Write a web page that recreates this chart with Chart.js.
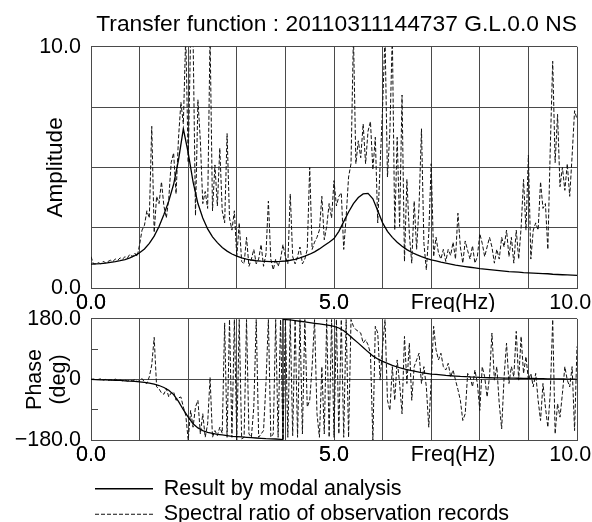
<!DOCTYPE html>
<html>
<head>
<meta charset="utf-8">
<script src="https://cdn.jsdelivr.net/npm/chart.js@4.4.1/dist/chart.umd.min.js"></script>
<style>
  html, body { margin: 0; padding: 0; background: #fff; overflow: hidden; }
  body { width: 592px; height: 522px; position: relative; }
  #ampBox { position: absolute; left: 0; top: 0; }
  #phaseBox { position: absolute; left: 0; top: 289px; }
</style>
</head>
<body>
<div id="ampBox"><canvas id="graficoAmp" width="592" height="312"></canvas></div>
<div id="phaseBox"><canvas id="graficoPhase" width="592" height="246"></canvas></div>
<script>
// dados
const tituloTexto = 'Transfer function : 20110311144737 G.L.0.0 NS';
const nomeModal = 'Result by modal analysis';
const nomeObs = 'Spectral ratio of observation records';

// frequencias (Hz) das curvas
const freqObs = [
  0, 0.05, 0.1, 0.15, 0.2, 0.25, 0.3, 0.35, 0.4, 0.45,
  0.5, 0.55, 0.6, 0.65, 0.7, 0.75, 0.8, 0.85, 0.9, 0.95,
  1, 1.05, 1.1, 1.15, 1.2, 1.25, 1.3, 1.35, 1.4, 1.45,
  1.5, 1.55, 1.6, 1.65, 1.7, 1.75, 1.8, 1.85, 1.9, 1.95,
  2, 2.05, 2.1, 2.15, 2.2, 2.25, 2.3, 2.35, 2.4, 2.45,
  2.5, 2.55, 2.6, 2.65, 2.7, 2.75, 2.8, 2.85, 2.9, 2.95,
  3, 3.05, 3.1, 3.15, 3.2, 3.25, 3.3, 3.35, 3.4, 3.45,
  3.5, 3.55, 3.6, 3.65, 3.7, 3.75, 3.8, 3.85, 3.9, 3.95,
  4, 4.05, 4.1, 4.15, 4.2, 4.25, 4.3, 4.35, 4.4, 4.45,
  4.5, 4.55, 4.6, 4.65, 4.7, 4.75, 4.8, 4.85, 4.9, 4.95,
  5, 5.05, 5.1, 5.15, 5.2, 5.25, 5.3, 5.35, 5.4, 5.45,
  5.5, 5.55, 5.6, 5.65, 5.7, 5.75, 5.8, 5.85, 5.9, 5.95,
  6, 6.05, 6.1, 6.15, 6.2, 6.25, 6.3, 6.35, 6.4, 6.45,
  6.5, 6.55, 6.6, 6.65, 6.7, 6.75, 6.8, 6.85, 6.9, 6.95,
  7, 7.05, 7.1, 7.15, 7.2, 7.25, 7.3, 7.35, 7.4, 7.45,
  7.5, 7.55, 7.6, 7.65, 7.7, 7.75, 7.8, 7.85, 7.9, 7.95,
  8, 8.05, 8.1, 8.15, 8.2, 8.25, 8.3, 8.35, 8.4, 8.45,
  8.5, 8.55, 8.6, 8.65, 8.7, 8.75, 8.8, 8.85, 8.9, 8.95,
  9, 9.05, 9.1, 9.15, 9.2, 9.25, 9.3, 9.35, 9.4, 9.45,
  9.5, 9.55, 9.6, 9.65, 9.7, 9.75, 9.8, 9.85, 9.9, 9.95,
  10
];

const ampObs = [
  1.3, 1.0, 1.0, 1.05, 1.0, 1.1, 1.05, 1.1, 1.15, 1.1,
  1.2, 1.15, 1.25, 1.2, 1.3, 1.25, 1.4, 1.3, 1.45, 1.3,
  1.8, 2.4, 2.6, 3.2, 2.9, 6.7, 2.3, 3.8, 3.5, 4.4,
  3.4, 2.9, 3.7, 5.2, 5.6, 3.9, 6.2, 7.7, 6.8, 10.5,
  5.2, 10.5, 10.5, 3.0, 7.8, 6.1, 3.5, 4.0, 3.3, 10.5,
  3.2, 5.1, 3.4, 5.8, 3.2, 2.7, 6.4, 2.9, 2.4, 3.2,
  1.3, 2.7, 1.1, 1.0, 2.1, 0.9, 1.2, 1.6, 1.0, 1.2,
  1.8, 0.9, 1.4, 3.6, 1.2, 0.75, 1.2, 0.9, 1.2, 1.8,
  1.3, 1.0, 3.9, 1.3, 1.0, 1.3, 1.7, 1.0, 1.2, 1.6,
  5.0, 1.6, 1.9, 2.1, 2.4, 3.8, 2.0, 2.55, 3.5, 2.9,
  4.45, 3.4, 3.8, 3.95, 1.6, 2.95, 4.6, 5.15, 10.5, 5.15,
  6.1, 5.4, 6.8, 5.15, 6.5, 6.9, 4.9, 6.25, 2.7, 5.15,
  7.5, 10.5, 4.6, 6.5, 10.5, 2.4, 6.25, 2.55, 8.0, 1.1,
  4.5, 2.25, 1.03, 3.6, 1.6, 3.4, 6.6, 1.85, 0.75, 2.25,
  5.15, 1.3, 2.1, 1.45, 1.2, 1.6, 1.1, 1.6, 1.35, 1.9,
  1.2, 3.1, 1.7, 1.03, 1.95, 1.55, 1.2, 1.75, 1.03, 1.3,
  2.25, 1.85, 1.3, 1.7, 2.1, 1.7, 1.03, 1.6, 1.2, 2.1,
  1.7, 2.4, 1.3, 2.1, 1.03, 2.4, 1.2, 2.5, 4.5, 2.4,
  5.5, 1.2, 2.4, 2.7, 2.4, 4.4, 3.3, 3.5, 1.6, 5.8,
  9.4, 5.2, 7.2, 4.2, 5.0, 4.05, 5.15, 3.8, 5.5, 7.35,
  7.0
];

const phaseObs = [
  0, 1, -1, 0, 2, -2, 0, -3, -1, -2,
  1, -3, -2, -4, -2, -5, -3, -4, -1, -6,
  -4, 3, -8, -12, 8, 43, 125, -22, -28, -40,
  -44, -27, -52, -40, -37, -62, -55, -52, -82, -107,
  -180, -92, -142, -82, -62, -162, -102, -172, -132, 6,
  -172, -152, -167, -142, -160, 168, -172, 178, -172, 178,
  -180, 178, -177, -172, 178, -162, -172, -82, 178, -172,
  -162, -152, -12, 178, -172, -162, 178, -172, 178, -180,
  178, -172, 178, -167, 178, -172, 178, -162, 178, -82,
  -62, 38, 178, -102, -172, 38, -162, 178, -172, 178,
  -172, 178, -162, 178, -172, 178, -172, 178, 158, 148,
  143, 138, 108, 118, 103, 78, -180, 158, 138, -2,
  98, 178, -62, -92, 38, -62, 58, -12, -102, 128,
  -12, 108, -62, 38, 58, 78, -12, 38, -22, -142,
  -2, 158, 88, 58, 78, 38, 28, 48, 8, 28,
  -2, -30, -62, -122, -102, 18, 8, -22, 28, -12,
  -92, 38, 8, -52, 8, 138, -2, 38, -72, -147,
  8, 108, -12, 38, 8, 143, -2, 128, 18, 68,
  -2, 18, -22, 18, -62, -122, -12, -82, -142, -42,
  178, -162, -72, -112, -42, 38, -2, -22, 38, -152,
  98
];

const freqModal = [
  0, 0.1, 0.2, 0.3, 0.4, 0.5, 0.6, 0.7, 0.8, 0.9,
  1, 1.1, 1.2, 1.3, 1.4, 1.5, 1.6, 1.7, 1.8, 1.9,
  2, 2.1, 2.2, 2.3, 2.4, 2.5, 2.6, 2.7, 2.8, 2.9,
  3, 3.1, 3.2, 3.3, 3.4, 3.5, 3.6, 3.7, 3.8, 3.9,
  4, 4.1, 4.2, 4.3, 4.4, 4.5, 4.6, 4.7, 4.8, 4.9,
  5, 5.1, 5.2, 5.3, 5.4, 5.5, 5.6, 5.7, 5.8, 5.9,
  6, 6.1, 6.2, 6.3, 6.4, 6.5, 6.6, 6.7, 6.8, 6.9,
  7, 7.1, 7.2, 7.3, 7.4, 7.5, 7.6, 7.7, 7.8, 7.9,
  8, 8.1, 8.2, 8.3, 8.4, 8.5, 8.6, 8.7, 8.8, 8.9,
  9, 9.1, 9.2, 9.3, 9.4, 9.5, 9.6, 9.7, 9.8, 9.9,
  10
];

const ampModal = [
  0.99, 1.0, 1.01, 1.03, 1.06, 1.09, 1.13, 1.18, 1.25, 1.34,
  1.46, 1.62, 1.85, 2.15, 2.55, 3.05, 3.6, 4.3, 5.3, 6.6,
  5.6, 4.4, 3.5, 2.9, 2.45, 2.12, 1.88, 1.68, 1.53, 1.41,
  1.32, 1.25, 1.2, 1.16, 1.13, 1.11, 1.1, 1.09, 1.09, 1.1,
  1.12, 1.15, 1.19, 1.25, 1.32, 1.4, 1.5, 1.62, 1.76, 1.9,
  2.05, 2.35, 2.75, 3.15, 3.5, 3.75, 3.9, 3.92, 3.7, 3.2,
  2.7, 2.35, 2.1, 1.9, 1.73, 1.59, 1.47, 1.38, 1.3, 1.23,
  1.17, 1.12, 1.07, 1.03, 0.99, 0.95, 0.92, 0.89, 0.86, 0.83,
  0.8, 0.78, 0.76, 0.74, 0.72, 0.7, 0.68, 0.67, 0.66, 0.64,
  0.63, 0.62, 0.61, 0.6, 0.59, 0.57, 0.56, 0.55, 0.54, 0.53,
  0.52
];

// fase do modelo: o salto de -180 para +180 fica em 3.95 Hz
const freqModalPhase = [
  0, 0.1, 0.2, 0.3, 0.4, 0.5, 0.6, 0.7, 0.8, 0.9,
  1, 1.1, 1.2, 1.3, 1.4, 1.5, 1.6, 1.7, 1.8, 1.9,
  2, 2.1, 2.2, 2.3, 2.4, 2.5, 2.6, 2.7, 2.8, 2.9,
  3, 3.1, 3.2, 3.3, 3.4, 3.5, 3.6, 3.7, 3.8, 3.9, 3.95, 3.95,
  4, 4.1, 4.2, 4.3, 4.4, 4.5, 4.6, 4.7, 4.8, 4.9,
  5, 5.1, 5.2, 5.3, 5.4, 5.5, 5.6, 5.7, 5.8, 5.9,
  6, 6.1, 6.2, 6.3, 6.4, 6.5, 6.6, 6.7, 6.8, 6.9,
  7, 7.1, 7.2, 7.3, 7.4, 7.5, 7.6, 7.7, 7.8, 7.9,
  8, 8.1, 8.2, 8.3, 8.4, 8.5, 8.6, 8.7, 8.8, 8.9,
  9, 9.1, 9.2, 9.3, 9.4, 9.5, 9.6, 9.7, 9.8, 9.9,
  10
];

const phaseModal = [
  0, -0.5, -1, -1.5, -2, -2.5, -3, -4, -5, -6,
  -7, -9, -11, -14, -18, -24, -32, -45, -65, -90,
  -112, -132, -144, -152, -157, -160, -163, -165, -167, -169,
  -170, -171, -172, -173, -174, -175, -176, -176.5, -177, -178, -179, 179,
  178, 177, 175, 173, 171, 169, 167, 165, 163, 161,
  158, 153, 145, 133, 120, 108, 95, 82, 70, 61,
  54, 48, 42, 37, 33, 29, 26, 23, 20, 18,
  16, 15, 13.5, 12, 11, 10, 9, 8.5, 7.5, 7,
  6, 5.5, 5, 4.8, 4.5, 4.2, 4, 3.7, 3.5, 3.2,
  3, 2.8, 2.5, 2.3, 2, 1.8, 1.6, 1.4, 1.2, 1.1,
  1
];

// eixos
const xGridVals = [0, 1, 2, 3, 4, 5, 6, 7, 8, 9, 10];
const xLabelVals = [0, 5, 7.45, 9.86];
const xLabelText = ['0.0', '5.0', 'Freq(Hz)', '10.0'];
const ampTicks = [0, 2.5, 5, 7.5, 10];
const ampTickText = ['0.0', '', '', '', '10.0'];
const phaseTicks = [-180, -90, 0, 90, 180];
const phaseTickText = ['\u2212180.0', '', '0', '', '180.0'];

const fonte = 'Liberation Sans, Arial, sans-serif';
const corGrade = '#4a4a4a';

function pontos(xs, ys) {
  return xs.map((x, i) => ({ x: x, y: ys[i] }));
}

function eixoX(altura) {
  const todos = xGridVals.concat(xLabelVals).sort((a, b) => a - b);
  return {
    type: 'linear',
    min: 0,
    max: 10,
    afterBuildTicks: (s) => { s.ticks = todos.map(v => ({ value: v })); },
    afterFit: (s) => { s.height = altura; },
    ticks: {
      autoSkip: false, maxRotation: 0, minRotation: 0, padding: 2,
      color: '#000', font: { family: fonte, size: 21.5 },
      callback: (v) => {
        const k = xLabelVals.findIndex(t => Math.abs(t - v) < 1e-6);
        return k >= 0 ? xLabelText[k] : '';
      }
    },
    grid: {
      drawTicks: false,
      color: (ctx) => Number.isInteger(Math.round(ctx.tick.value * 1000) / 1000) ? corGrade : 'rgba(0,0,0,0)'
    },
    border: { color: corGrade }
  };
}

function datasets(modalX, modalY, obsX, obsY) {
  return [
    {
      label: nomeModal,
      data: pontos(modalX, modalY),
      borderColor: '#000', borderWidth: 1.3,
      pointRadius: 0, tension: 0
    },
    {
      label: nomeObs,
      data: pontos(obsX, obsY),
      borderColor: '#111', borderWidth: 1, borderDash: [4, 2],
      pointRadius: 0, tension: 0
    }
  ];
}

// --- grafico de amplitude ---
new Chart(document.getElementById('graficoAmp'), {
  type: 'line',
  data: { datasets: datasets(freqModal, ampModal, freqObs, ampObs) },
  options: {
    responsive: false, animation: false, events: [],
    layout: { padding: { left: 0, right: 15, top: 0, bottom: 0 } },
    plugins: {
      legend: { display: false },
      tooltip: { enabled: false },
      title: {
        display: true, text: tituloTexto, align: 'end', fullSize: false,
        color: '#000', font: { family: fonte, size: 22.8, weight: 'normal' },
        padding: { top: 11, bottom: 8.4 }
      }
    },
    scales: {
      x: eixoX(24),
      y: {
        min: 0, max: 10,
        afterBuildTicks: (s) => { s.ticks = ampTicks.map(v => ({ value: v })); },
        afterFit: (s) => { s.width = 91; },
        ticks: {
          padding: 10, color: '#000', font: { family: fonte, size: 21.5 },
          callback: (v) => ampTickText[ampTicks.indexOf(v)] || ''
        },
        grid: { drawTicks: false, color: corGrade },
        border: { color: corGrade },
        title: {
          display: true, text: 'Amplitude', color: '#000',
          font: { family: fonte, size: 22.5 }, padding: { top: 42, bottom: 0 }
        }
      }
    }
  }
});

// --- grafico de fase ---
new Chart(document.getElementById('graficoPhase'), {
  type: 'line',
  data: { datasets: datasets(freqModalPhase, phaseModal, freqObs, phaseObs) },
  options: {
    responsive: false, animation: false, events: [],
    layout: { padding: { left: 0, right: 15, top: 0, bottom: 0 } },
    plugins: {
      tooltip: { enabled: false },
      legend: {
        display: true, position: 'bottom', align: 'start', fullSize: false,
        labels: {
          usePointStyle: true, pointStyle: 'line', pointStyleWidth: 58,
          padding: 4, color: '#000', font: { family: fonte, size: 21.5 },
          generateLabels: (chart) => {
            const itens = Chart.defaults.plugins.legend.labels.generateLabels(chart);
            itens.forEach(it => {
              const ds = chart.data.datasets[it.datasetIndex];
              it.lineDash = ds.borderDash || [];
              it.lineWidth = ds.borderWidth;
              it.strokeStyle = ds.borderColor;
            });
            return itens;
          }
        }
      }
    },
    scales: {
      x: eixoX(34),
      y: {
        min: -180, max: 180,
        afterBuildTicks: (s) => { s.ticks = phaseTicks.map(v => ({ value: v })); },
        afterFit: (s) => { s.width = 91; },
        ticks: {
          padding: 17, color: '#000', font: { family: fonte, size: 21.5 },
          callback: (v) => phaseTickText[phaseTicks.indexOf(v)] || ''
        },
        grid: {
          drawTicks: true, tickLength: -7, tickColor: corGrade,
          color: (ctx) => Math.abs(ctx.tick.value) === 90 ? 'rgba(0,0,0,0)' : corGrade
        },
        border: { color: corGrade },
        title: {
          display: true, text: ['Phase', '(deg)'], color: '#000',
          font: { family: fonte, size: 21.5, lineHeight: 1.12 }, padding: { top: 23, bottom: 0 }
        }
      }
    }
  }
});
</script>
</body>
</html>
